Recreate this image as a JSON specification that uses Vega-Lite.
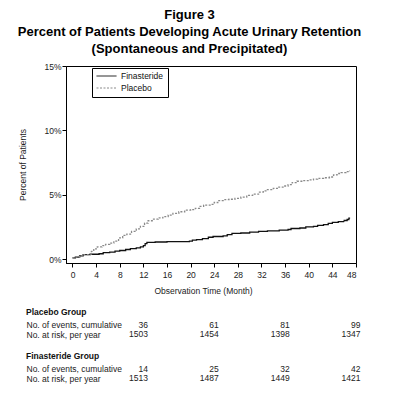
{
  "$schema": "https://vega.github.io/schema/vega-lite/v6.json",
  "padding": {"left": 17, "top": 8, "right": 5, "bottom": 5},
  "background": "white",
  "config": {
    "font": "Liberation Sans",
    "view": {"stroke": null},
    "axis": {"labelFont": "Liberation Sans", "titleFont": "Liberation Sans", "labelColor": "#222", "titleColor": "#222", "labelFontSize": 8.5, "titleFontSize": 8.5, "titleFontWeight": "normal", "grid": false, "domainColor": "black", "tickColor": "black"}
  },
  "title": {
    "text": ["Figure 3", "Percent of Patients Developing Acute Urinary Retention", "(Spontaneous and Precipitated)"],
    "font": "Liberation Sans",
    "fontSize": 13,
    "fontWeight": "bold",
    "lineHeight": 17,
    "color": "black",
    "anchor": "middle",
    "offset": 6
  },
  "datasets": {
    "km": [
      {"treatment": "Finasteride", "month": 0, "pct": 0.1},
      {"treatment": "Finasteride", "month": 0.5, "pct": 0.15},
      {"treatment": "Finasteride", "month": 1.2, "pct": 0.25},
      {"treatment": "Finasteride", "month": 1.8, "pct": 0.35},
      {"treatment": "Finasteride", "month": 3.0, "pct": 0.38},
      {"treatment": "Finasteride", "month": 4.5, "pct": 0.42},
      {"treatment": "Finasteride", "month": 5.2, "pct": 0.5},
      {"treatment": "Finasteride", "month": 6.3, "pct": 0.55},
      {"treatment": "Finasteride", "month": 7.2, "pct": 0.62},
      {"treatment": "Finasteride", "month": 8.0, "pct": 0.67},
      {"treatment": "Finasteride", "month": 9.0, "pct": 0.75},
      {"treatment": "Finasteride", "month": 9.8, "pct": 0.82},
      {"treatment": "Finasteride", "month": 10.8, "pct": 0.88},
      {"treatment": "Finasteride", "month": 11.5, "pct": 0.95},
      {"treatment": "Finasteride", "month": 12.0, "pct": 1.05},
      {"treatment": "Finasteride", "month": 12.3, "pct": 1.2},
      {"treatment": "Finasteride", "month": 12.6, "pct": 1.3},
      {"treatment": "Finasteride", "month": 14.0, "pct": 1.33},
      {"treatment": "Finasteride", "month": 16.0, "pct": 1.36},
      {"treatment": "Finasteride", "month": 19.8, "pct": 1.4},
      {"treatment": "Finasteride", "month": 20.3, "pct": 1.47},
      {"treatment": "Finasteride", "month": 21.0, "pct": 1.52},
      {"treatment": "Finasteride", "month": 22.0, "pct": 1.6},
      {"treatment": "Finasteride", "month": 23.0, "pct": 1.7},
      {"treatment": "Finasteride", "month": 23.8, "pct": 1.76},
      {"treatment": "Finasteride", "month": 25.5, "pct": 1.8},
      {"treatment": "Finasteride", "month": 26.2, "pct": 1.9},
      {"treatment": "Finasteride", "month": 27.0, "pct": 2.0},
      {"treatment": "Finasteride", "month": 28.5, "pct": 2.03},
      {"treatment": "Finasteride", "month": 30.0, "pct": 2.1},
      {"treatment": "Finasteride", "month": 31.5, "pct": 2.15},
      {"treatment": "Finasteride", "month": 33.0, "pct": 2.2},
      {"treatment": "Finasteride", "month": 35.0, "pct": 2.25},
      {"treatment": "Finasteride", "month": 36.5, "pct": 2.3},
      {"treatment": "Finasteride", "month": 37.0, "pct": 2.38},
      {"treatment": "Finasteride", "month": 38.5, "pct": 2.42},
      {"treatment": "Finasteride", "month": 39.5, "pct": 2.5},
      {"treatment": "Finasteride", "month": 40.8, "pct": 2.55},
      {"treatment": "Finasteride", "month": 41.5, "pct": 2.62},
      {"treatment": "Finasteride", "month": 42.5, "pct": 2.68},
      {"treatment": "Finasteride", "month": 43.3, "pct": 2.78},
      {"treatment": "Finasteride", "month": 44.0, "pct": 2.85},
      {"treatment": "Finasteride", "month": 45.0, "pct": 2.92},
      {"treatment": "Finasteride", "month": 46.0, "pct": 3.0},
      {"treatment": "Finasteride", "month": 46.5, "pct": 3.08},
      {"treatment": "Finasteride", "month": 46.8, "pct": 3.18},
      {"treatment": "Finasteride", "month": 47.0, "pct": 3.18},
      {"treatment": "Placebo", "month": 0, "pct": 0.1},
      {"treatment": "Placebo", "month": 0.5, "pct": 0.15},
      {"treatment": "Placebo", "month": 1.2, "pct": 0.25},
      {"treatment": "Placebo", "month": 1.8, "pct": 0.35},
      {"treatment": "Placebo", "month": 2.8, "pct": 0.4},
      {"treatment": "Placebo", "month": 3.2, "pct": 0.6},
      {"treatment": "Placebo", "month": 3.6, "pct": 0.8},
      {"treatment": "Placebo", "month": 4.2, "pct": 0.95},
      {"treatment": "Placebo", "month": 5.0, "pct": 1.05},
      {"treatment": "Placebo", "month": 5.6, "pct": 1.15},
      {"treatment": "Placebo", "month": 6.3, "pct": 1.25},
      {"treatment": "Placebo", "month": 7.0, "pct": 1.4},
      {"treatment": "Placebo", "month": 7.8, "pct": 1.65},
      {"treatment": "Placebo", "month": 8.5, "pct": 1.85},
      {"treatment": "Placebo", "month": 9.2, "pct": 1.95},
      {"treatment": "Placebo", "month": 10.0, "pct": 2.15},
      {"treatment": "Placebo", "month": 10.8, "pct": 2.35},
      {"treatment": "Placebo", "month": 11.5, "pct": 2.55},
      {"treatment": "Placebo", "month": 12.2, "pct": 2.8},
      {"treatment": "Placebo", "month": 12.8, "pct": 2.98},
      {"treatment": "Placebo", "month": 13.5, "pct": 3.1},
      {"treatment": "Placebo", "month": 14.5, "pct": 3.2},
      {"treatment": "Placebo", "month": 15.3, "pct": 3.3},
      {"treatment": "Placebo", "month": 16.2, "pct": 3.42},
      {"treatment": "Placebo", "month": 17.0, "pct": 3.55},
      {"treatment": "Placebo", "month": 18.0, "pct": 3.68},
      {"treatment": "Placebo", "month": 19.0, "pct": 3.8},
      {"treatment": "Placebo", "month": 20.0, "pct": 3.85},
      {"treatment": "Placebo", "month": 20.8, "pct": 3.95},
      {"treatment": "Placebo", "month": 21.5, "pct": 4.1},
      {"treatment": "Placebo", "month": 22.2, "pct": 4.2},
      {"treatment": "Placebo", "month": 23.5, "pct": 4.25},
      {"treatment": "Placebo", "month": 24.0, "pct": 4.4},
      {"treatment": "Placebo", "month": 24.6, "pct": 4.55},
      {"treatment": "Placebo", "month": 25.5, "pct": 4.62},
      {"treatment": "Placebo", "month": 26.5, "pct": 4.65},
      {"treatment": "Placebo", "month": 27.5, "pct": 4.72},
      {"treatment": "Placebo", "month": 28.5, "pct": 4.82},
      {"treatment": "Placebo", "month": 29.5, "pct": 4.95},
      {"treatment": "Placebo", "month": 30.5, "pct": 5.05},
      {"treatment": "Placebo", "month": 31.5, "pct": 5.2},
      {"treatment": "Placebo", "month": 32.3, "pct": 5.3},
      {"treatment": "Placebo", "month": 33.0, "pct": 5.4},
      {"treatment": "Placebo", "month": 34.0, "pct": 5.5},
      {"treatment": "Placebo", "month": 34.8, "pct": 5.6},
      {"treatment": "Placebo", "month": 35.8, "pct": 5.68},
      {"treatment": "Placebo", "month": 36.5, "pct": 5.78},
      {"treatment": "Placebo", "month": 37.2, "pct": 5.95},
      {"treatment": "Placebo", "month": 38.0, "pct": 6.05},
      {"treatment": "Placebo", "month": 39.0, "pct": 6.1},
      {"treatment": "Placebo", "month": 40.0, "pct": 6.15},
      {"treatment": "Placebo", "month": 40.8, "pct": 6.22},
      {"treatment": "Placebo", "month": 41.5, "pct": 6.28},
      {"treatment": "Placebo", "month": 42.5, "pct": 6.32},
      {"treatment": "Placebo", "month": 43.5, "pct": 6.38},
      {"treatment": "Placebo", "month": 44.2, "pct": 6.55},
      {"treatment": "Placebo", "month": 44.8, "pct": 6.65},
      {"treatment": "Placebo", "month": 45.5, "pct": 6.72},
      {"treatment": "Placebo", "month": 46.3, "pct": 6.8},
      {"treatment": "Placebo", "month": 46.8, "pct": 6.86},
      {"treatment": "Placebo", "month": 47.0, "pct": 6.86}
    ],
    "tab": [
      {"group": "Placebo", "row": "No. of events, cumulative", "month": 12, "value": "36"},
      {"group": "Placebo", "row": "No. of events, cumulative", "month": 24, "value": "61"},
      {"group": "Placebo", "row": "No. of events, cumulative", "month": 36, "value": "81"},
      {"group": "Placebo", "row": "No. of events, cumulative", "month": 48, "value": "99"},
      {"group": "Placebo", "row": "No. at risk, per year", "month": 12, "value": "1503"},
      {"group": "Placebo", "row": "No. at risk, per year", "month": 24, "value": "1454"},
      {"group": "Placebo", "row": "No. at risk, per year", "month": 36, "value": "1398"},
      {"group": "Placebo", "row": "No. at risk, per year", "month": 48, "value": "1347"},
      {"group": "Finasteride", "row": "No. of events, cumulative", "month": 12, "value": "14"},
      {"group": "Finasteride", "row": "No. of events, cumulative", "month": 24, "value": "25"},
      {"group": "Finasteride", "row": "No. of events, cumulative", "month": 36, "value": "32"},
      {"group": "Finasteride", "row": "No. of events, cumulative", "month": 48, "value": "42"},
      {"group": "Finasteride", "row": "No. at risk, per year", "month": 12, "value": "1513"},
      {"group": "Finasteride", "row": "No. at risk, per year", "month": 24, "value": "1487"},
      {"group": "Finasteride", "row": "No. at risk, per year", "month": 36, "value": "1449"},
      {"group": "Finasteride", "row": "No. at risk, per year", "month": 48, "value": "1421"}
    ]
  },
  "spacing": 11,
  "vconcat": [
    {
      "width": 290,
      "height": 197,
      "view": {"stroke": "black", "strokeWidth": 1},
      "data": {"name": "km"},
      "mark": {"type": "line", "interpolate": "step-after", "strokeWidth": 1.3},
      "encoding": {
        "x": {
          "field": "month", "type": "quantitative",
          "scale": {"domain": [-1.1, 48], "nice": false, "zero": false},
          "axis": {"title": "Observation Time (Month)", "values": [0, 4, 8, 12, 16, 20, 24, 28, 32, 36, 40, 44, 48], "tickSize": 4, "labelPadding": 3, "titlePadding": 8, "titleX": 137}
        },
        "y": {
          "field": "pct", "type": "quantitative",
          "scale": {"domain": [-0.3, 15], "nice": false, "zero": false},
          "axis": {"title": "Percent of Patients", "values": [0, 5, 10, 15], "labelExpr": "datum.value + '%'", "tickSize": 4, "labelPadding": 1, "titlePadding": 16}
        },
        "color": {
          "field": "treatment", "type": "nominal",
          "scale": {"domain": ["Finasteride", "Placebo"], "range": ["#111111", "#8a8a8a"]},
          "legend": {"title": null, "orient": "none", "legendX": 26, "legendY": 2, "strokeColor": "black", "fillColor": "white", "padding": 4, "symbolType": "stroke", "symbolSize": 400, "symbolStrokeWidth": 1, "clipHeight": 8, "rowPadding": 3, "labelFontSize": 8.5, "labelFont": "Liberation Sans", "labelColor": "#111", "labelOffset": 4, "encode": {"symbols": {"update": {"stroke": {"value": "#222"}}}}}
        },
        "strokeDash": {
          "field": "treatment", "type": "nominal",
          "scale": {"domain": ["Finasteride", "Placebo"], "range": [[1, 0], [2, 1.5]]},
          "legend": {"title": null, "orient": "none", "legendX": 26, "legendY": 2, "strokeColor": "black", "fillColor": "white", "padding": 4, "symbolType": "stroke", "symbolSize": 400, "symbolStrokeWidth": 1, "clipHeight": 8, "rowPadding": 3, "labelFontSize": 8.5, "labelFont": "Liberation Sans", "labelColor": "#111", "labelOffset": 4, "encode": {"symbols": {"update": {"stroke": {"value": "#222"}}}}}
        }
      }
    },
    {
      "width": 290,
      "height": {"step": 9.6},
      "title": {"text": "Placebo Group", "anchor": "start", "fontSize": 8.5, "fontWeight": "bold", "color": "#111", "offset": 4},
      "data": {"name": "tab"},
      "transform": [{"filter": "datum.group === 'Placebo'"}],
      "mark": {"type": "text", "align": "right", "baseline": "middle", "dx": 4.5, "fontSize": 8.5, "color": "#222"},
      "encoding": {
        "x": {"field": "month", "type": "quantitative", "scale": {"domain": [-1.1, 48], "nice": false, "zero": false}, "axis": null},
        "y": {"field": "row", "type": "nominal", "sort": ["No. of events, cumulative", "No. at risk, per year"], "axis": {"title": null, "domain": false, "ticks": false, "tickSize": 0, "labelAlign": "left", "labelPadding": 40, "labelBaseline": "middle"}},
        "text": {"field": "value", "type": "nominal"}
      }
    },
    {
      "width": 290,
      "height": {"step": 9.6},
      "title": {"text": "Finasteride Group", "anchor": "start", "fontSize": 8.5, "fontWeight": "bold", "color": "#111", "offset": 4},
      "data": {"name": "tab"},
      "transform": [{"filter": "datum.group === 'Finasteride'"}],
      "mark": {"type": "text", "align": "right", "baseline": "middle", "dx": 4.5, "fontSize": 8.5, "color": "#222"},
      "encoding": {
        "x": {"field": "month", "type": "quantitative", "scale": {"domain": [-1.1, 48], "nice": false, "zero": false}, "axis": null},
        "y": {"field": "row", "type": "nominal", "sort": ["No. of events, cumulative", "No. at risk, per year"], "axis": {"title": null, "domain": false, "ticks": false, "tickSize": 0, "labelAlign": "left", "labelPadding": 40, "labelBaseline": "middle"}},
        "text": {"field": "value", "type": "nominal"}
      }
    }
  ]
}
